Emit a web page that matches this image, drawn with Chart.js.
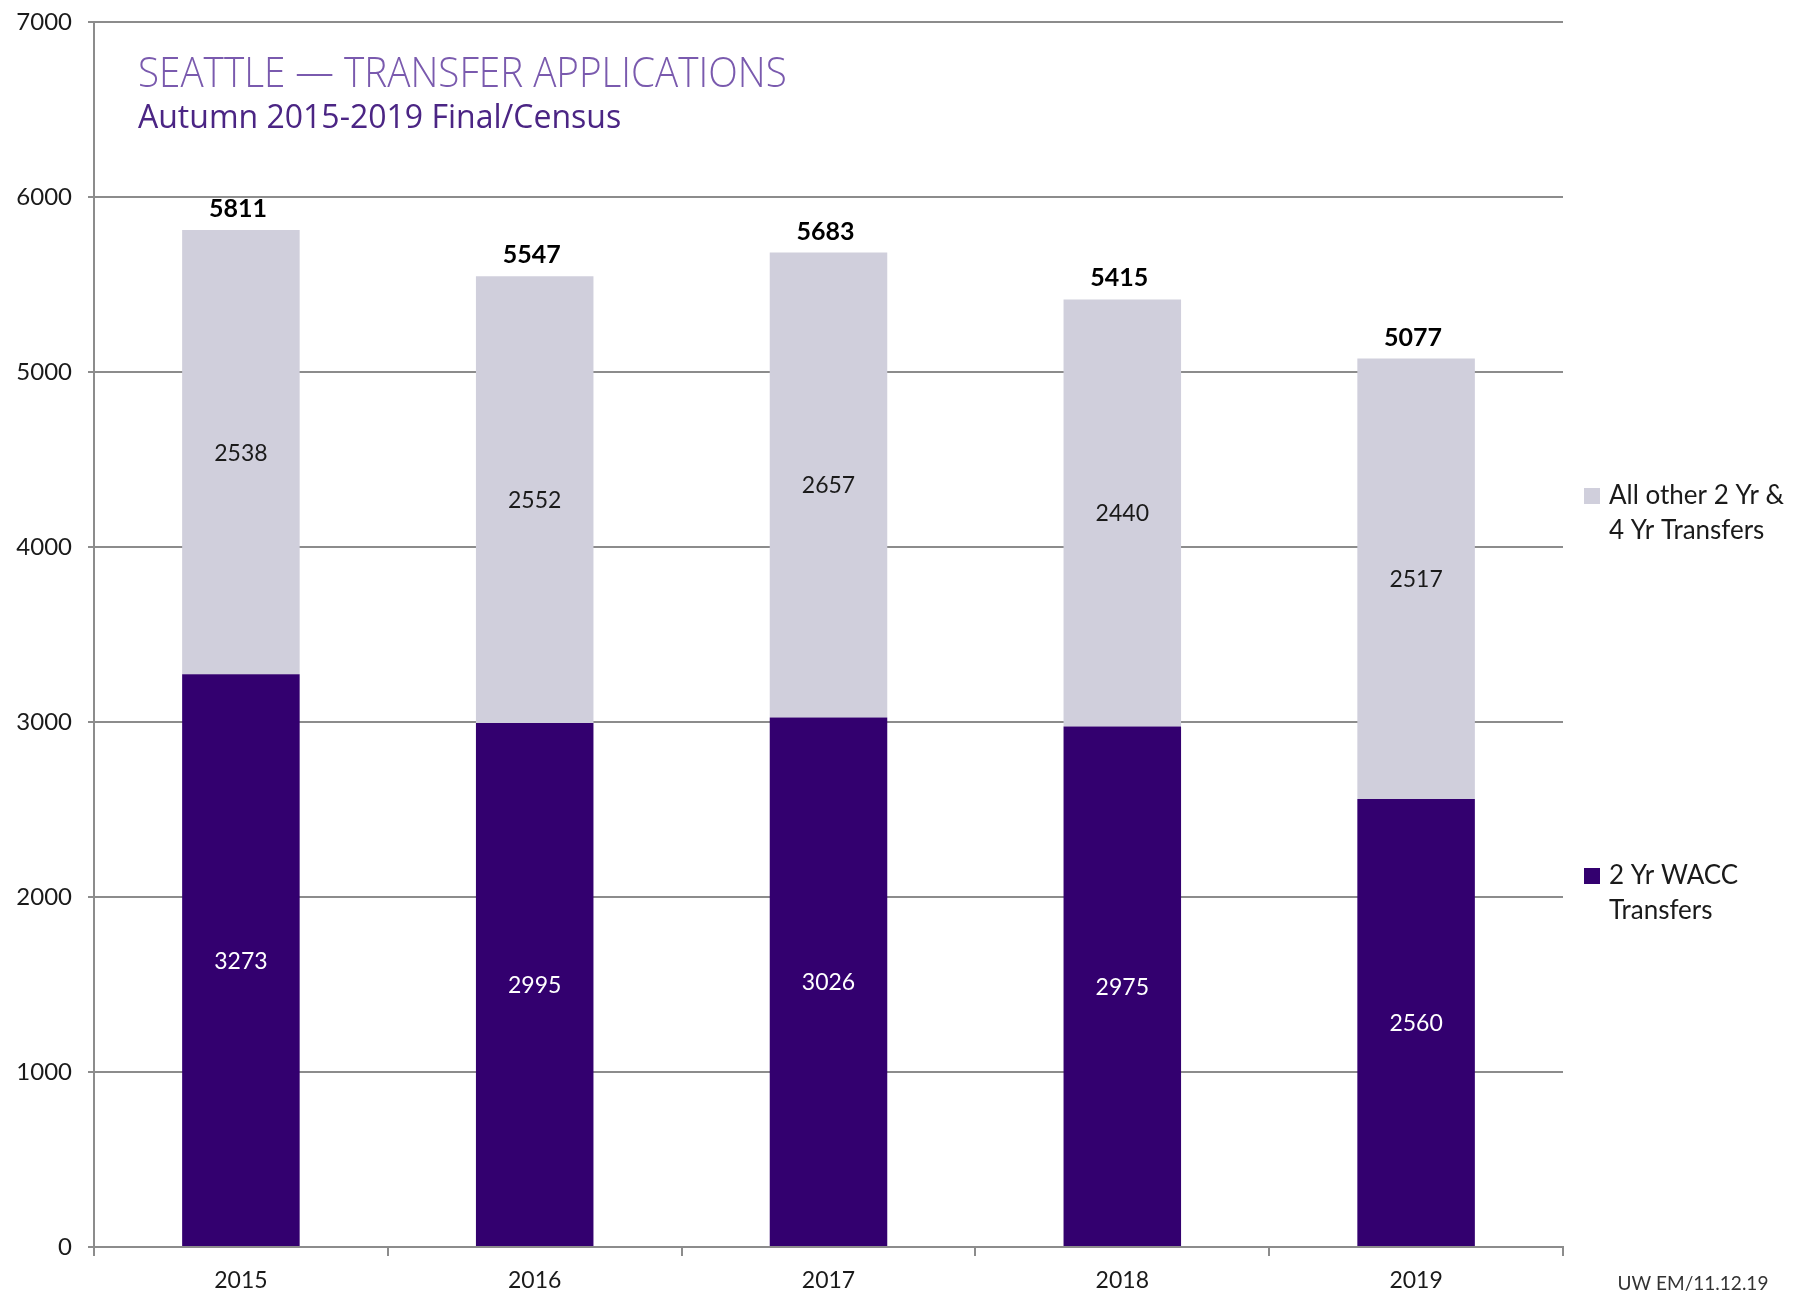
<!DOCTYPE html>
<html>
<head>
<meta charset="utf-8">
<script src="https://cdn.jsdelivr.net/npm/chart.js@4"></script>
<style>
  html, body { margin: 0; padding: 0; background: #ffffff; }
  #wrap { width: 1799px; height: 1311px; position: relative; }
</style>
</head>
<body>
<div id="wrap"><canvas id="c" width="1799" height="1311"></canvas></div>
<script>
// ---- data ----
const years = ['2015', '2016', '2017', '2018', '2019'];
const wacc = [3273, 2995, 3026, 2975, 2560];
const other = [2538, 2552, 2657, 2440, 2517];
const totals = [5811, 5547, 5683, 5415, 5077];
const seriesNames = ['2 Yr WACC Transfers', 'All other 2 Yr & 4 Yr Transfers'];
const legendLines = [['2 Yr WACC', 'Transfers'], ['All other 2 Yr &', '4 Yr Transfers']];
const titleText = 'SEATTLE \u2014 TRANSFER APPLICATIONS';
const subtitleText = 'Autumn 2015-2019 Final/Census';
const footerText = 'UW EM/11.12.19';

const PURPLE = '#33006f';
const GRAY = '#d0cfdc';
const AXIS = '#8c8c8c';
const FONT = 'Lato, "Open Sans", sans-serif';

const labelPlugin = {
  id: 'labels',
  afterDatasetsDraw(chart) {
    const ctx = chart.ctx;
    ctx.save();
    ctx.textAlign = 'center';
    ctx.textBaseline = 'middle';
    chart.data.datasets.forEach((ds, i) => {
      const meta = chart.getDatasetMeta(i);
      meta.data.forEach((el, j) => {
        const y = (el.y + el.base) / 2;
        ctx.font = '23px ' + FONT;
        ctx.fillStyle = i === 0 ? '#ffffff' : '#1a1a1a';
        ctx.fillText(String(ds.data[j]), el.x, y + 1);
      });
    });
    const topMeta = chart.getDatasetMeta(chart.data.datasets.length - 1);
    topMeta.data.forEach((el, j) => {
      ctx.font = 'bold 25px ' + FONT;
      ctx.fillStyle = '#000000';
      ctx.fillText(String(totals[j]), el.x - 3, el.y - 21);
    });
    ctx.restore();
  },
  afterDraw(chart) {
    const ctx = chart.ctx;
    ctx.save();
    // title
    ctx.textAlign = 'left';
    ctx.textBaseline = 'alphabetic';
    ctx.fillStyle = '#7a5aae';
    ctx.save();
    ctx.translate(138, 87);
    ctx.scale(0.92, 1);
    ctx.font = '300 42px "Open Sans", Lato, sans-serif';
    ctx.fillText(titleText, 0, 0);
    ctx.restore();
    ctx.fillStyle = '#4b2584';
    ctx.font = '32px "Open Sans", Lato, sans-serif';
    ctx.fillText(subtitleText, 138, 128);
    // legend (reversed order like Excel)
    const items = [
      { color: chart.data.datasets[1].backgroundColor, lines: legendLines[1], y: 496 },
      { color: chart.data.datasets[0].backgroundColor, lines: legendLines[0], y: 876 }
    ];
    ctx.textBaseline = 'middle';
    items.forEach(it => {
      ctx.fillStyle = it.color;
      ctx.fillRect(1584, it.y - 8, 16, 16);
      ctx.fillStyle = '#1a1a1a';
      ctx.font = '26px ' + FONT;
      it.lines.forEach((ln, k) => ctx.fillText(ln, 1609, it.y + k * 35));
    });
    // footer
    ctx.fillStyle = '#333333';
    ctx.font = '19px ' + FONT;
    ctx.textAlign = 'center';
    ctx.fillText(footerText, 1693, 1284);
    ctx.restore();
  }
};

new Chart(document.getElementById('c'), {
  type: 'bar',
  data: {
    labels: years,
    datasets: [
      { label: seriesNames[0], data: wacc, backgroundColor: PURPLE, borderWidth: 0 },
      { label: seriesNames[1], data: other, backgroundColor: GRAY, borderWidth: 0 }
    ]
  },
  options: {
    responsive: false,
    animation: false,
    devicePixelRatio: 1,
    layout: { padding: { top: 22, right: 236, left: 0, bottom: 0 } },
    plugins: { legend: { display: false }, tooltip: { enabled: false }, title: { display: false } },
    datasets: { bar: { categoryPercentage: 1.0, barPercentage: 0.4 } },
    scales: {
      x: {
        stacked: true,
        afterFit(s) { s.height = 64; s.paddingLeft = 0; s.paddingRight = 0; },
        grid: { display: true, drawOnChartArea: false, drawTicks: true, tickLength: 9, color: AXIS, lineWidth: 2, offset: true },
        border: { display: true, color: AXIS, width: 2 },
        ticks: { color: '#1a1a1a', font: { family: FONT, size: 23 }, padding: 11 }
      },
      y: {
        stacked: true,
        min: 0, max: 7000,
        afterFit(s) { s.width = 94; s.paddingTop = 0; s.paddingBottom = 0; },
        grid: { color: AXIS, lineWidth: 2, tickLength: 6, drawTicks: true },
        border: { display: true, color: AXIS, width: 2 },
        ticks: { stepSize: 1000, color: '#1a1a1a', font: { family: FONT, size: 24 }, padding: 16,
                 callback: (v) => String(v) }
      }
    }
  },
  plugins: [labelPlugin]
});
</script>
</body>
</html>
